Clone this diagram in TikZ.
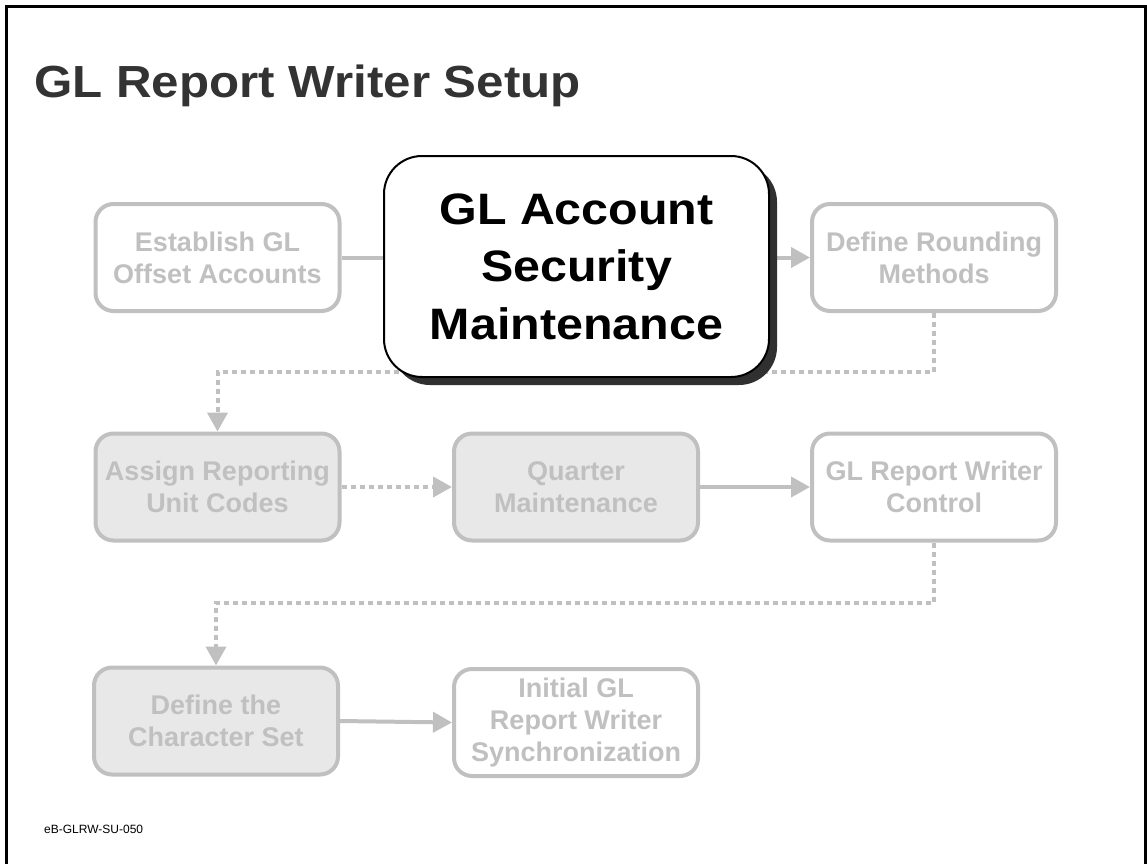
\documentclass[tikz,border=0pt]{standalone}
\usepackage{fontspec}
\setmainfont{Liberation Sans}
\newfontfamily\widefont[FakeStretch=1.1]{Liberation Sans}
\newfontfamily\headfont[FakeStretch=1.095]{Liberation Sans}
\usetikzlibrary{arrows.meta,shadows,backgrounds}

\definecolor{linegray}{HTML}{C0C0C0}
\definecolor{boxfill}{HTML}{E8E8E8}
\definecolor{shadowgray}{HTML}{303030}
\definecolor{titlegray}{HTML}{333333}

\tikzset{
  stepbox/.style={draw=linegray, line width=4pt, rounded corners=18pt,
    fill=white, text=linegray, align=center, inner sep=0pt,
    minimum width=244pt, minimum height=107pt,
    font=\bfseries\fontsize{27}{32}\selectfont},
  donebox/.style={stepbox, fill=boxfill},
  focusbox/.style={draw=black, line width=2pt, rounded corners=38pt,
    fill=white, text=black, align=center, inner sep=0pt,
    minimum width=385pt, minimum height=221pt,
    font=\widefont\bfseries\fontsize{44}{57.5}\selectfont,
    drop shadow={shadow xshift=8pt, shadow yshift=-8pt,
      fill=shadowgray, opacity=1}},
  flowline/.style={draw=linegray, line width=4pt},
  flowarrow/.style={flowline, -{Triangle[width=20pt,length=19pt]}},
  dotarrow/.style={flowarrow, dash pattern=on 5pt off 4pt}
}

\begin{document}
\begin{tikzpicture}[x=1pt, y=-1pt]
\useasboundingbox (0,0) rectangle (1147,863);

% slide frame (open at the bottom edge)
\draw[line width=3pt] (6.5,875) -- (6.5,6.5) -- (1145.5,6.5) -- (1145.5,875);

% heading and slide code
\node[anchor=base west, inner sep=0pt, text=titlegray,
      font=\headfont\bfseries\fontsize{45}{52}\selectfont] (title) at (34,97)
  {GL Report Writer Setup};
\node[anchor=base west, inner sep=0pt, font=\fontsize{12}{14}\selectfont]
  (code) at (44,833) {eB-GLRW-SU-050};

% setup steps
\node[stepbox] (est) at (217.5,257.5) {Establish GL\\Offset Accounts};
\node[focusbox] (gla) at (576.5,266.5) {GL Account\\Security\\Maintenance};
\node[stepbox] (rnd) at (934,257.5) {Define Rounding\\Methods};

\node[donebox] (asg) at (217.5,487) {Assign Reporting\\Unit Codes};
\node[donebox] (qtr) at (576,487) {Quarter\\Maintenance};
\node[stepbox] (ctl) at (934,487) {GL Report Writer\\Control};

\node[donebox] (chs) at (216,721) {Define the\\Character Set};
\node[stepbox] (ini) at (576,722.5) {Initial GL\\Report Writer\\Synchronization};

% connectors, kept behind the boxes
\begin{pgfonlayer}{background}
  \draw[flowline] (est.east) -- (est.east -| gla.west);
  \draw[flowarrow] (gla.east |- rnd.west) -- (rnd.west);
  \draw[dotarrow] (rnd.south) -- ++(0,59) -| (asg.north);
  \draw[dotarrow] (asg.east) -- (qtr.west);
  \draw[flowarrow] (qtr.east) -- (ctl.west);
  \draw[dotarrow] (ctl.south) -- ++(0,60) -| (chs.north);
  \draw[flowarrow] (chs.east) -- (ini.west);
\end{pgfonlayer}
\end{tikzpicture}
\end{document}
